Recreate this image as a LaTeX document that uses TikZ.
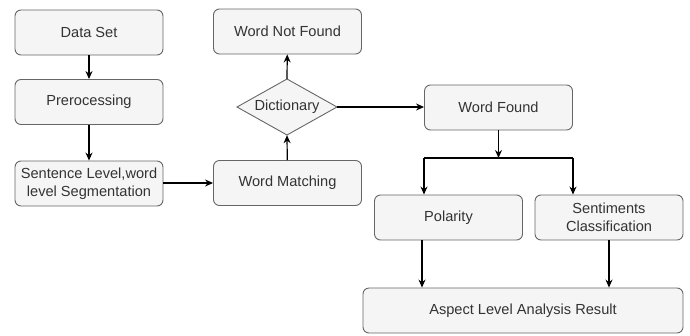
\documentclass[tikz,border=0pt]{standalone}
\usepackage{fontspec}
\setmainfont{Liberation Sans}
\usetikzlibrary{arrows.meta}
\definecolor{boxfill}{HTML}{F5F5F5}
\definecolor{boxline}{HTML}{666666}
\definecolor{txt}{HTML}{333333}
\begin{document}
\begin{tikzpicture}[x=1pt,y=-1pt,
  box/.style={draw=boxline,fill=boxfill,rounded corners=6pt,line width=0.9pt,
    minimum width=148pt,minimum height=45pt,inner sep=2pt,align=center,
    text=txt,font=\fontsize{14.6}{18}\selectfont},
  arr/.style={line width=1.2pt,-{Stealth[length=8pt,width=7pt]}},
  ln/.style={line width=1.2pt}]
\useasboundingbox (0,0) rectangle (690,335);
\node[box] (ds) at (89,32.5) {Data Set};
\node[box] (pr) at (89,102) {Prerocessing};
\node[box] (sen) at (89,183.5) {Sentence Level,word\\level Segmentation};
\node[box] (wnf) at (287.5,31.5) {Word Not Found};
\node[box] (wm) at (287.5,183) {Word Matching};
\draw[draw=boxline,fill=boxfill,line width=0.9pt] (237,107) -- (287,79) -- (337,107) -- (287,135) -- cycle;
\node[minimum width=100pt,minimum height=56pt,inner sep=0pt,text=txt,font=\fontsize{14.6}{18}\selectfont] (dict) at (287,107) {Dictionary};
\node[box] (wf) at (498.5,107.5) {Word Found};
\node[box] (pol) at (448.5,217.5) {Polarity};
\node[box] (sc) at (609,217.5) {Sentiments\\Classification};
\node[box,minimum width=320pt] (asp) at (523,310.5) {Aspect Level Analysis Result};
\coordinate (j) at (498.5,158);
\coordinate (jl) at (424,158);
\coordinate (jr) at (573,158);
\draw[arr] (ds) -- (pr);
\draw[arr] (pr) -- (sen);
\draw[arr] (sen.east |- wm.west) -- (wm.west);
\draw[arr] (wm) -- (dict.south);
\draw[arr] (dict.north) -- (wnf);
\draw[arr] (dict.east) -- (wf.west |- dict.east);
\draw[arr] (wf) -- (j);
\draw[ln] (jl) -- (jr);
\draw[arr] (jl) -- (jl |- pol.north);
\draw[arr] (jr) -- (jr |- sc.north);
\draw[arr] (pol.south -| 422,0) -- (asp.north -| 422,0);
\draw[arr] (sc.south) -- (asp.north -| sc.south);
\end{tikzpicture}
\end{document}
